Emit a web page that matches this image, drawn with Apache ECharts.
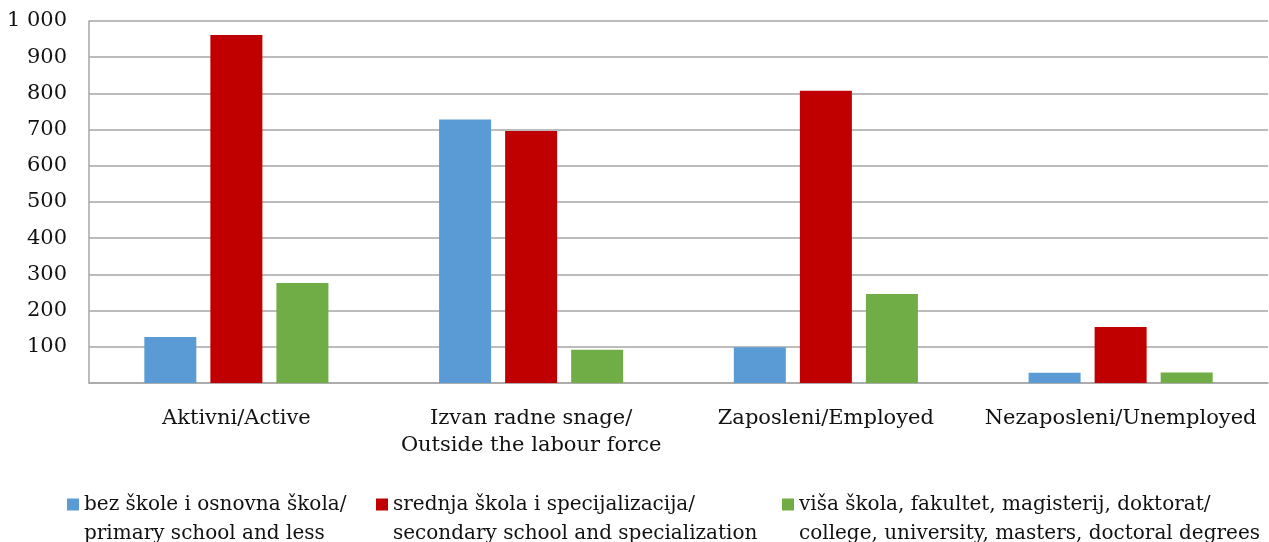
<!DOCTYPE html>
<html>
<head>
<meta charset="utf-8">
<script src="https://cdn.jsdelivr.net/npm/echarts@6/dist/echarts.min.js"></script>
<style>
html,body{margin:0;padding:0;background:#fff;}
#chart{width:1269px;height:542px;}
</style>
</head>
<body>
<div id="chart"></div>
<script>
// kategorije / categories
var categories = ['Aktivni/Active', 'Izvan radne snage/\nOutside the labour force', 'Zaposleni/Employed', 'Nezaposleni/Unemployed'];
var seriesNames = [
	'bez škole i osnovna škola/\nprimary school and less',
	'srednja škola i specijalizacija/\nsecondary school and specialization',
	'viša škola, fakultet, magisterij, doktorat/\ncollege, university, masters, doctoral degrees'
];
var primaryVals = [127, 728, 99, 28];
var secondaryVals = [961, 696, 807, 155];
var tertiaryVals = [276, 92, 246, 29];
var colors = ['#5b9bd5', '#c00000', '#70ad47'];
var legendLeft = [67, 376, 782];

var fontName = 'DejaVu Serif';

// square on top of a taller (empty) box so it lines up with the first text line
function makeLegend(i){
	return {
		data: [seriesNames[i]],
		left: legendLeft[i],
		top: 490,
		icon: 'path://M0,0H12V12H0ZM0,41',
		itemWidth: 12,
		itemHeight: 41,
		itemGap: 0,
		itemTextGap: 9,
		padding: 0,
		textStyle: {
			fontFamily: fontName,
			fontSize: 20,
			color: '#111',
			lineHeight: 29
		}
	};
}

var vals = [primaryVals, secondaryVals, tertiaryVals];
var series = [];
for (var i = 0; i < 3; i++) {
	series.push({
		name: seriesNames[i],
		type: 'bar',
		barWidth: 52,
		barGap: '27%',
		itemStyle: {color: colors[i]},
		data: vals[i]
	});
}

var option = {
	animation: false,
	backgroundColor: '#fff',
	grid: {left: 89, right: 1, top: 21, bottom: 159},
	legend: [makeLegend(0), makeLegend(1), makeLegend(2)],
	xAxis: {
		type: 'category',
		data: categories,
		axisLine: {lineStyle: {color: '#a6a6a6', width: 1.5}},
		axisTick: {show: false},
		axisLabel: {
			fontFamily: fontName,
			fontSize: 21,
			color: '#111',
			lineHeight: 27,
			margin: 22,
			interval: 0
		}
	},
	yAxis: {
		type: 'value',
		min: 0,
		max: 1000,
		interval: 100,
		axisLine: {show: true, lineStyle: {color: '#a6a6a6', width: 1.5}},
		axisTick: {show: false},
		splitLine: {lineStyle: {color: '#a6a6a6', width: 1.5}},
		axisLabel: {
			fontFamily: fontName,
			fontSize: 21,
			color: '#111',
			margin: 22,
			formatter: function(v){
				if (v === 0) return '';
				return v >= 1000 ? (Math.floor(v/1000) + ' ' + ('00' + (v % 1000)).slice(-3)) : String(v);
			}
		}
	},
	series: series
};

var myChart = echarts.init(document.getElementById('chart'));
myChart.setOption(option);
</script>
</body>
</html>
